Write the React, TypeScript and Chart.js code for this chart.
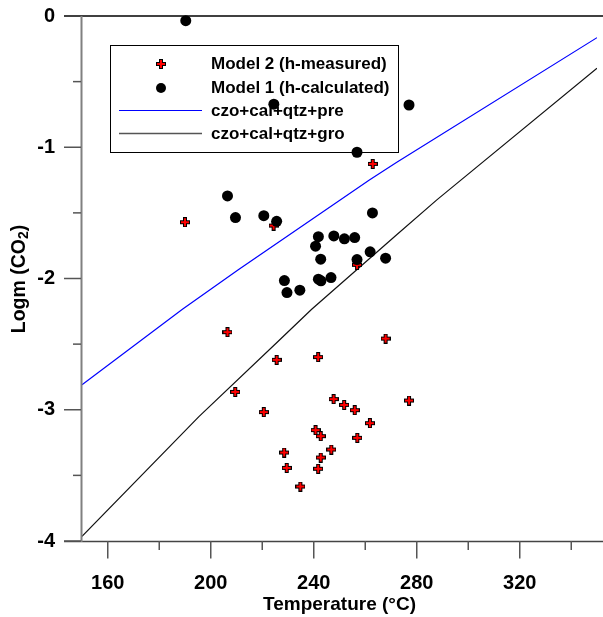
import React, { useEffect, useRef } from "react";
import { Chart, registerables } from "chart.js";
Chart.register(...registerables);

// Model 1 (h-calculated): temperature (°C) and log m(CO2)
const model1Temp = [190.3, 224.5, 277.0, 256.8, 206.5, 209.6, 220.6, 225.6, 262.8, 241.8, 247.8, 251.9, 255.9, 240.7, 242.7, 256.8, 261.9, 267.9, 228.6, 229.6, 234.6, 241.8, 242.8, 246.7];
const model1Logm = [-0.036, -0.672, -0.678, -1.038, -1.371, -1.536, -1.521, -1.564, -1.5, -1.681, -1.676, -1.698, -1.688, -1.754, -1.853, -1.856, -1.797, -1.845, -2.016, -2.107, -2.089, -2.005, -2.018, -1.993];

// Model 2 (h-measured)
const model2Temp = [190.0, 262.9, 224.4, 256.8, 206.5, 267.9, 225.6, 241.7, 209.5, 220.6, 247.7, 251.8, 255.9, 277.0, 261.8, 240.7, 242.7, 256.9, 228.5, 246.8, 242.7, 229.5, 241.7, 234.8];
const model2Logm = [-1.571, -1.127, -1.597, -1.896, -2.409, -2.458, -2.62, -2.599, -2.864, -3.018, -2.919, -2.963, -3.003, -2.93, -3.102, -3.155, -3.201, -3.214, -3.326, -3.303, -3.364, -3.443, -3.45, -3.585];

// Equilibrium curves
const preTemp = [150, 189.0, 210.7, 261.6, 272.1, 350];
const preLogm = [-2.81, -2.234, -1.934, -1.249, -1.117, -0.165];
const groTemp = [150, 195.4, 226.1, 239.2, 272.1, 287.8, 350];
const groLogm = [-3.965, -3.052, -2.48, -2.234, -1.668, -1.401, -0.398];

const legendLabels = ["Model 2 (h-measured)", "Model 1 (h-calculated)", "czo+cal+qtz+pre", "czo+cal+qtz+gro"];
const xTicks = [160, 180, 200, 220, 240, 260, 280, 300, 320, 340];
const xLabelTicks = [160, 200, 240, 280, 320];
const yTicks = [-4, -3.5, -3, -2.5, -2, -1.5, -1, -0.5, 0];
const yLabelTicks = [-4, -3, -2, -1, 0];
const xMin = 150;
const xMax = 350;
const yMin = -4;
const yMax = 0;
const xTitle = "Temperature (°C)";

const FONT = '"Liberation Sans", Arial, sans-serif';

function makePlus(size: number, thick: number) {
  const c = document.createElement("canvas");
  c.width = size;
  c.height = size;
  const g = c.getContext("2d")!;
  const a = (size - thick) / 2;
  g.fillStyle = "#000";
  g.fillRect(0, a, size, thick);
  g.fillRect(a, 0, thick, size);
  g.fillStyle = "#ff0000";
  g.fillRect(1, a + 1, size - 2, thick - 2);
  g.fillRect(a + 1, 1, thick - 2, size - 2);
  return c;
}

export default function App() {
  const ref = useRef<HTMLCanvasElement>(null);
  useEffect(() => {
    const canvas = ref.current!;
    const plusImg = makePlus(10, 4);

    const legendPlugin = {
      id: "customLegend",
      beforeDatasetsDraw(chart: any) {
        const ctx = chart.ctx as CanvasRenderingContext2D;
        ctx.save();
        ctx.strokeStyle = "#000";
        ctx.lineWidth = 1;
        ctx.strokeRect(110.5, 45.5, 288, 107);
        ctx.drawImage(plusImg, 156, 59);
        ctx.fillStyle = "#000";
        ctx.beginPath();
        ctx.arc(161, 88, 5, 0, Math.PI * 2);
        ctx.fill();
        ctx.strokeStyle = "#0000ff";
        ctx.beginPath();
        ctx.moveTo(119, 110.5);
        ctx.lineTo(202, 110.5);
        ctx.stroke();
        ctx.strokeStyle = "#555";
        ctx.lineWidth = 1.5;
        ctx.beginPath();
        ctx.moveTo(119, 133.5);
        ctx.lineTo(202, 133.5);
        ctx.stroke();
        ctx.fillStyle = "#000";
        ctx.font = `bold 17px ${FONT}`;
        ctx.textAlign = "left";
        ctx.textBaseline = "middle";
        const ys = [64.5, 88, 111, 134.5];
        legendLabels.forEach((l, i) => ctx.fillText(l, 211, ys[i]));
        ctx.restore();
      },
    };

    const axesPlugin = {
      id: "customAxes",
      afterDraw(chart: any) {
        const ctx = chart.ctx as CanvasRenderingContext2D;
        const xs = chart.scales.x;
        const ys = chart.scales.y;
        const area = chart.chartArea;
        ctx.save();
        // top frame line
        ctx.strokeStyle = "#000";
        ctx.lineWidth = 1.5;
        ctx.beginPath();
        ctx.moveTo(64, area.top);
        ctx.lineTo(603, area.top);
        ctx.stroke();
        // x axis line
        ctx.strokeStyle = "#444";
        ctx.beginPath();
        ctx.moveTo(64, area.bottom + 0.5);
        ctx.lineTo(603, area.bottom + 0.5);
        ctx.stroke();
        // y axis line
        ctx.strokeStyle = "#808080";
        ctx.lineWidth = 2;
        ctx.beginPath();
        ctx.moveTo(area.left - 0.5, area.top);
        ctx.lineTo(area.left - 0.5, area.bottom + 1);
        ctx.stroke();
        // y ticks
        ctx.strokeStyle = "#555";
        ctx.lineWidth = 1.5;
        yTicks.forEach((v) => {
          const p = ys.getPixelForValue(v);
          const major = yLabelTicks.includes(v);
          if (v === 0) return;
          ctx.beginPath();
          ctx.moveTo(major ? 64 : 73, p);
          ctx.lineTo(area.left - 1, p);
          ctx.stroke();
        });
        // x ticks
        xTicks.forEach((v) => {
          const p = xs.getPixelForValue(v);
          const major = xLabelTicks.includes(v);
          ctx.beginPath();
          ctx.moveTo(p, area.bottom);
          ctx.lineTo(p, area.bottom + (major ? 17.5 : 9));
          ctx.stroke();
        });
        // axis titles
        ctx.fillStyle = "#000";
        ctx.textBaseline = "middle";
        ctx.textAlign = "center";
        ctx.font = `bold 19px ${FONT}`;
        ctx.fillText(xTitle, (area.left + area.right) / 2, 605);
        // y title with subscript
        ctx.translate(20, (area.top + area.bottom) / 2 + 0.5);
        ctx.rotate(-Math.PI / 2);
        const big = `bold 19.5px ${FONT}`;
        const small = `bold 14px ${FONT}`;
        ctx.font = big;
        const p1 = "Logm (CO";
        const p3 = ")";
        const w1 = ctx.measureText(p1).width;
        const w3 = ctx.measureText(p3).width;
        ctx.font = small;
        const w2 = ctx.measureText("2").width;
        const total = w1 + w2 + w3;
        const x0 = -total / 2;
        ctx.textAlign = "left";
        ctx.font = big;
        ctx.fillText(p1, x0, 0);
        ctx.font = small;
        ctx.fillText("2", x0 + w1, 4);
        ctx.font = big;
        ctx.fillText(p3, x0 + w1 + w2, 0);
        ctx.restore();
      },
    };

    const chart = new Chart(canvas, {
      type: "scatter",
      data: {
        datasets: [
          {
            label: legendLabels[1],
            data: model1Temp.map((t, i) => ({ x: t, y: model1Logm[i] })),
            pointStyle: "circle",
            pointRadius: 5.5,
            backgroundColor: "#000",
            borderWidth: 0,
            order: 0,
            clip: false,
          } as any,
          {
            label: legendLabels[0],
            data: model2Temp.map((t, i) => ({ x: t, y: model2Logm[i] })),
            pointStyle: plusImg,
            pointRadius: 5,
            order: 1,
            clip: false,
          },
          {
            label: legendLabels[2],
            data: preTemp.map((t, i) => ({ x: t, y: preLogm[i] })),
            showLine: true,
            borderColor: "#0000ff",
            borderWidth: 1.2,
            pointRadius: 0,
            tension: 0,
            order: 2,
          },
          {
            label: legendLabels[3],
            data: groTemp.map((t, i) => ({ x: t, y: groLogm[i] })),
            showLine: true,
            borderColor: "#111",
            borderWidth: 1.2,
            pointRadius: 0,
            tension: 0,
            order: 3,
          },
        ],
      },
      options: {
        animation: false,
        responsive: false,
        devicePixelRatio: 1,
        events: [],
        layout: { padding: { top: 16, left: 0, right: 0, bottom: 0 } },
        plugins: { legend: { display: false }, tooltip: { enabled: false }, title: { display: false } },
        scales: {
          x: {
            type: "linear",
            min: xMin,
            max: xMax,
            grid: { display: false },
            border: { display: false },
            afterBuildTicks: (s: any) => {
              s.ticks = xTicks.map((v) => ({ value: v }));
            },
            afterFit: (s: any) => {
              s.height = 76;
              s.paddingLeft = 0;
              s.paddingRight = 0;
            },
            ticks: {
              autoSkip: false,
              maxRotation: 0,
              minRotation: 0,
              padding: 22,
              color: "#000",
              font: { family: FONT, size: 20, weight: "bold" },
              callback: (v: any) => (xLabelTicks.includes(Number(v)) ? String(v) : ""),
            },
          },
          y: {
            type: "linear",
            min: yMin,
            max: yMax,
            grid: { display: false },
            border: { display: false },
            afterBuildTicks: (s: any) => {
              s.ticks = yTicks.map((v) => ({ value: v }));
            },
            afterFit: (s: any) => {
              s.width = 82;
              s.paddingTop = 0;
              s.paddingBottom = 0;
            },
            ticks: {
              autoSkip: false,
              padding: 19,
              color: "#000",
              font: { family: FONT, size: 20, weight: "bold" },
              callback: (v: any) => (yLabelTicks.includes(Number(v)) ? String(v) : ""),
            },
          },
        },
      } as any,
      plugins: [legendPlugin, axesPlugin],
    });
    return () => chart.destroy();
  }, []);

  return (
    <div style={{ position: "absolute", left: 0, top: 0, width: 603, height: 617, background: "#fff" }}>
      <canvas ref={ref} width={603} height={617} style={{ display: "block" }} />
    </div>
  );
}
